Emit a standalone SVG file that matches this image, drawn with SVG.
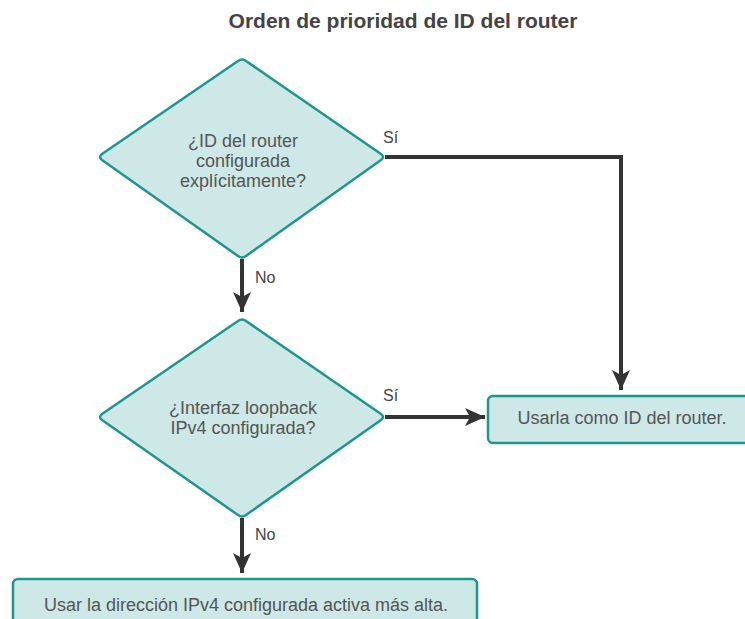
<svg xmlns="http://www.w3.org/2000/svg" width="745" height="619" viewBox="0 0 745 619">
<defs>
<style>
.shape{fill:#cde8e6;stroke:#1d9690;stroke-width:2.5;stroke-linejoin:round}
.t{font-family:"Liberation Sans",Arial,sans-serif;font-size:18px;fill:#555;text-anchor:middle}
.lbl{font-family:"Liberation Sans",Arial,sans-serif;font-size:16px;fill:#444}
.title{font-family:"Liberation Sans",Arial,sans-serif;font-size:21px;font-weight:bold;fill:#444;text-anchor:middle}
.c{fill:none;stroke:#333;stroke-width:4}
</style>
<marker id="ah" markerUnits="userSpaceOnUse" markerWidth="20" markerHeight="18" viewBox="0 0 20 18" refX="20" refY="9" orient="auto">
<path d="M0,0 L20,9 L0,18 L5,9 Z" fill="#333"/>
</marker>
</defs>
<rect width="745" height="619" fill="#fff"/>
<text class="title" x="403" y="28">Orden de prioridad de ID del router</text>
<g id="connectors">
<path class="c" d="M242,259 V312" marker-end="url(#ah)"/>
<path class="c" d="M242,518 V573" marker-end="url(#ah)"/>
<path class="c" d="M385,157 H621 V390" marker-end="url(#ah)"/>
<path class="c" d="M385,417 H485" marker-end="url(#ah)"/>
<text class="lbl" x="255" y="283">No</text>
<text class="lbl" x="255" y="540">No</text>
<text class="lbl" x="383" y="143">Sí</text>
<text class="lbl" x="383" y="401">Sí</text>
</g>
<g id="decision1">
<path class="shape" d="M238,61 Q242,58 246,61 L381,154 Q385,157 381,160 L246,256 Q242,259 238,256 L102,160 Q98,157 102,154 Z"/>
<text class="t" x="243" y="147">¿ID del router</text>
<text class="t" x="243" y="167">configurada</text>
<text class="t" x="243" y="187">explícitamente?</text>
</g>
<g id="decision2">
<path class="shape" d="M238,321 Q242,318 246,321 L381,414 Q385,417 381,420 L246,515 Q242,518 238,515 L102,420 Q98,417 102,414 Z"/>
<text class="t" x="243" y="414">¿Interfaz loopback</text>
<text class="t" x="243" y="434">IPv4 configurada?</text>
</g>
<g id="use-router-id">
<rect class="shape" x="488" y="396" width="270" height="47" rx="5"/>
<text class="t" x="622" y="424">Usarla como ID del router.</text>
</g>
<g id="use-highest-ipv4">
<rect class="shape" x="13" y="579" width="464" height="50" rx="5"/>
<text class="t" x="246" y="611">Usar la dirección IPv4 configurada activa más alta.</text>
</g>
</svg>
